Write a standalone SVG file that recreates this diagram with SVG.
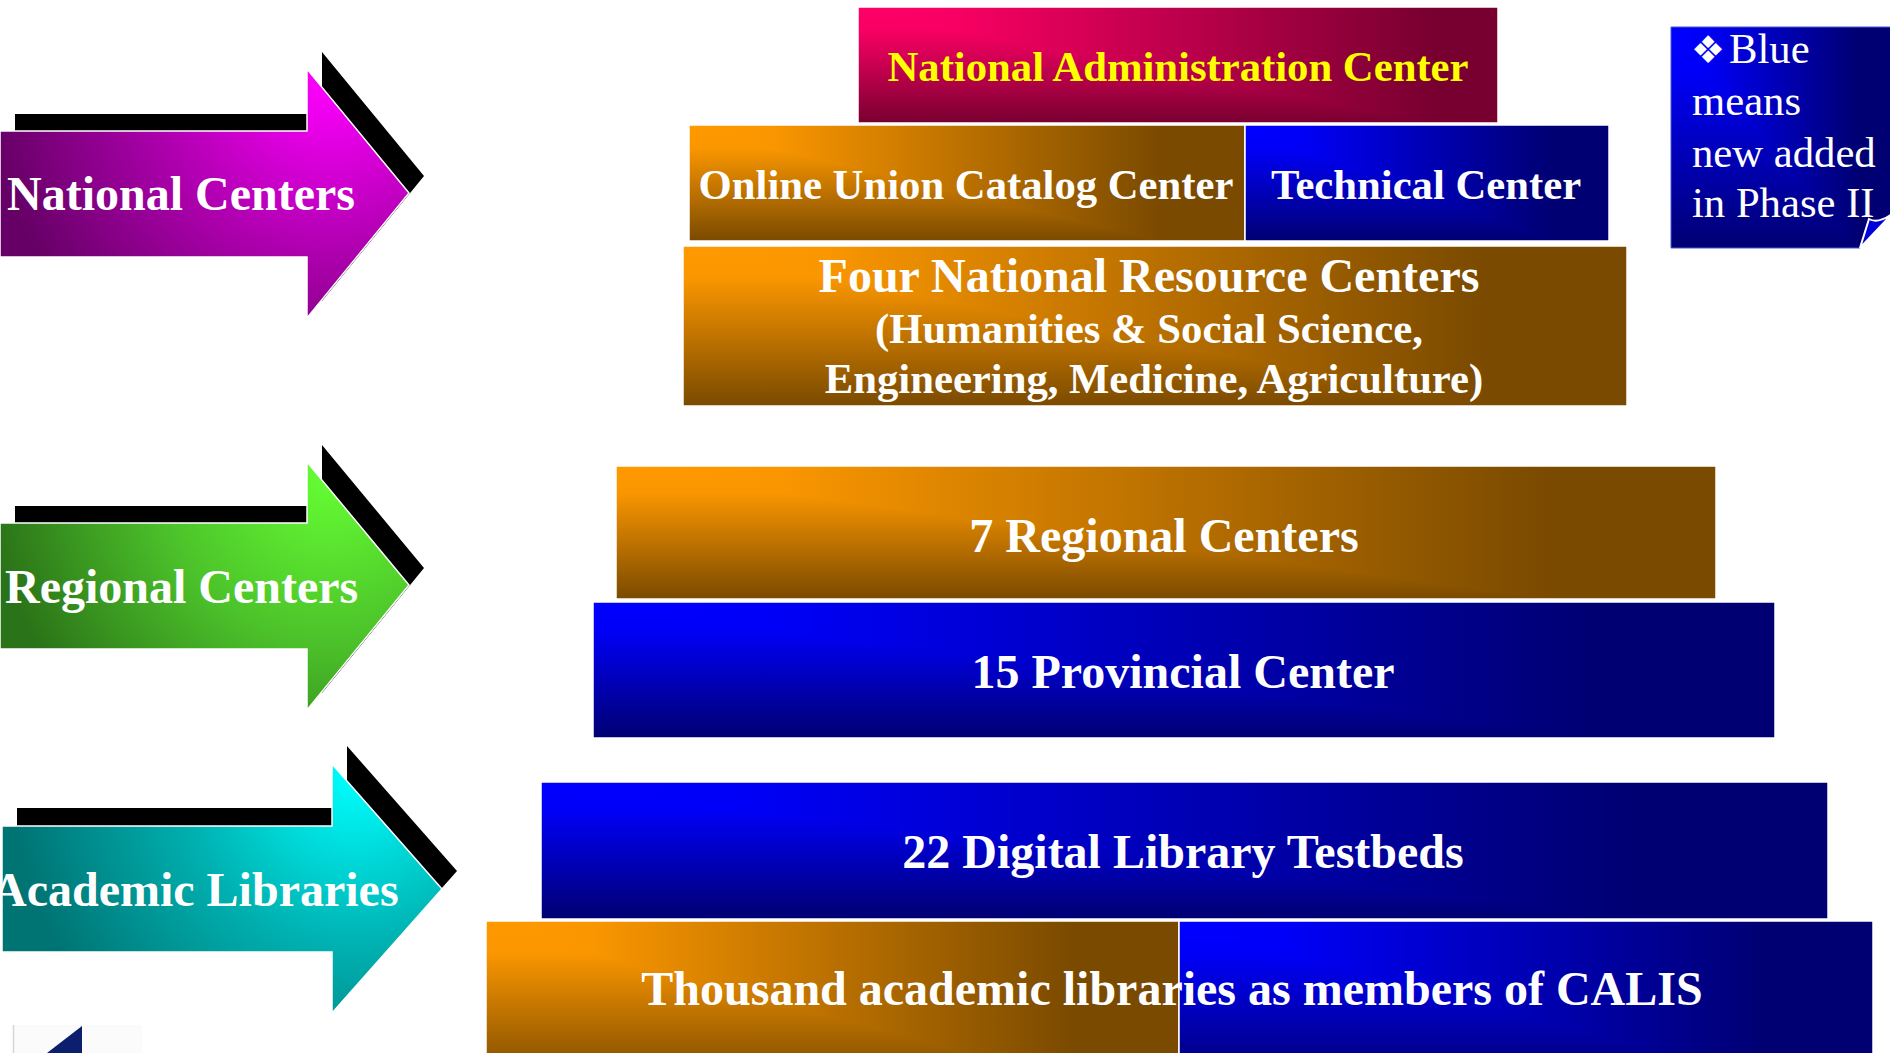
<svg xmlns="http://www.w3.org/2000/svg" width="1890" height="1053" viewBox="0 0 1890 1053">
<style>
.lbl{font-family:"Liberation Serif","Times New Roman",serif;font-weight:bold;fill:#fff;text-anchor:middle}
.arr{font-family:"Liberation Serif","Times New Roman",serif;font-weight:bold;fill:#fff;font-size:48px}
.leg{font-family:"Liberation Serif","Times New Roman",serif;fill:#fff;font-size:42.7px}
.edge{fill:none;stroke:#fff;stroke-width:1.5}
.ar{stroke:#fff;stroke-width:1.5}
.iso{isolation:isolate}
.dk{mix-blend-mode:darken}
</style>
<defs>
<linearGradient id="gOrH" x1="0" y1="0" x2="1" y2="0">
<stop offset="0" stop-color="#ff9900"/><stop offset="0.15" stop-color="#fa9600"/><stop offset="0.85" stop-color="#7a4a00"/>
</linearGradient>
<linearGradient id="gOrV" x1="0" y1="0" x2="0" y2="1">
<stop offset="0" stop-color="#ff9900"/><stop offset="0.2" stop-color="#fa9600"/><stop offset="1" stop-color="#7a4a00"/>
</linearGradient>
<linearGradient id="gBlH" x1="0" y1="0" x2="1" y2="0">
<stop offset="0" stop-color="#0000ff"/><stop offset="0.15" stop-color="#0000f8"/><stop offset="0.85" stop-color="#000072"/>
</linearGradient>
<linearGradient id="gBlV" x1="0" y1="0" x2="0" y2="1">
<stop offset="0" stop-color="#0000ff"/><stop offset="0.2" stop-color="#0000f8"/><stop offset="1" stop-color="#000072"/>
</linearGradient>
<linearGradient id="gAdH" x1="0" y1="0" x2="1" y2="0">
<stop offset="0" stop-color="#ff0066"/><stop offset="0.15" stop-color="#f80063"/><stop offset="0.9" stop-color="#780030"/>
</linearGradient>
<linearGradient id="gAdV" x1="0" y1="0" x2="0" y2="1">
<stop offset="0" stop-color="#ff0066"/><stop offset="0.2" stop-color="#f80063"/><stop offset="1" stop-color="#780030"/>
</linearGradient>
<radialGradient id="gNat" gradientUnits="userSpaceOnUse" cx="330" cy="80" r="340">
<stop offset="0" stop-color="#ff00ff"/><stop offset="0.5" stop-color="#b000b0"/><stop offset="1" stop-color="#660066"/>
</radialGradient>
<radialGradient id="gReg" gradientUnits="userSpaceOnUse" cx="330" cy="472" r="340">
<stop offset="0" stop-color="#66ff33"/><stop offset="0.5" stop-color="#4cc22a"/><stop offset="1" stop-color="#2b7318"/>
</radialGradient>
<radialGradient id="gAca" gradientUnits="userSpaceOnUse" cx="355" cy="775" r="345">
<stop offset="0" stop-color="#00ffff"/><stop offset="0.5" stop-color="#00b0b0"/><stop offset="1" stop-color="#007373"/>
</radialGradient>
</defs>
<rect width="1890" height="1053" fill="#fff"/>

<g id="arrow-national">
<polygon points="0,131 307,131 307,69 409,193 307,318 307,257 0,257" transform="translate(15,-17)" fill="#000"/>
<polygon class="ar" points="0,131 307,131 307,69 409,193 307,318 307,257 0,257" fill="url(#gNat)"/>
<text class="arr" x="7" y="210">National Centers</text>
</g>
<g id="arrow-regional">
<polygon points="0,523 307,523 307,462 409,585 307,710 307,649 0,649" transform="translate(15,-17)" fill="#000"/>
<polygon class="ar" points="0,523 307,523 307,462 409,585 307,710 307,649 0,649" fill="url(#gReg)"/>
<text class="arr" x="5" y="603">Regional Centers</text>
</g>
<g id="arrow-academic">
<polygon points="2,826 332,826 332,764 442,889 332,1013 332,952 2,952" transform="translate(15,-18)" fill="#000"/>
<polygon class="ar" points="2,826 332,826 332,764 442,889 332,1013 332,952 2,952" fill="url(#gAca)"/>
<text class="arr" x="-8" y="906">Academic Libraries</text>
</g>

<g id="national-admin">
<g class="iso"><rect x="858" y="7" width="640" height="116" fill="url(#gAdH)"/><rect class="dk" x="858" y="7" width="640" height="116" fill="url(#gAdV)"/></g>
<rect class="edge" x="858" y="7" width="640" height="116"/>
<text class="lbl" x="1178" y="81" font-size="42.7" style="fill:#ffff00">National Administration Center</text>
</g>
<g id="online-union">
<g class="iso"><rect x="689" y="125" width="556" height="116" fill="url(#gOrH)"/><rect class="dk" x="689" y="125" width="556" height="116" fill="url(#gOrV)"/></g>
<rect class="edge" x="689" y="125" width="556" height="116"/>
<text class="lbl" x="966" y="199" font-size="42.7">Online Union Catalog Center</text>
</g>
<g id="technical">
<g class="iso"><rect x="1245" y="125" width="364" height="116" fill="url(#gBlH)"/><rect class="dk" x="1245" y="125" width="364" height="116" fill="url(#gBlV)"/></g>
<rect class="edge" x="1245" y="125" width="364" height="116"/>
<text class="lbl" x="1426" y="199" font-size="42.7">Technical Center</text>
</g>
<g id="four-national">
<g class="iso"><rect x="683" y="246" width="944" height="160" fill="url(#gOrH)"/><rect class="dk" x="683" y="246" width="944" height="160" fill="url(#gOrV)"/></g>
<rect class="edge" x="683" y="246" width="944" height="160"/>
<text class="lbl" x="1149" y="292" font-size="48">Four National Resource Centers</text>
<text class="lbl" x="1149" y="343" font-size="42.7">(Humanities &amp; Social Science,</text>
<text class="lbl" x="1154" y="393" font-size="42.7">Engineering, Medicine, Agriculture)</text>
</g>
<g id="regional">
<g class="iso"><rect x="616" y="466" width="1100" height="133" fill="url(#gOrH)"/><rect class="dk" x="616" y="466" width="1100" height="133" fill="url(#gOrV)"/></g>
<rect class="edge" x="616" y="466" width="1100" height="133"/>
<text class="lbl" x="1164" y="552" font-size="48">7 Regional Centers</text>
</g>
<g id="provincial">
<g class="iso"><rect x="593" y="602" width="1182" height="136" fill="url(#gBlH)"/><rect class="dk" x="593" y="602" width="1182" height="136" fill="url(#gBlV)"/></g>
<rect class="edge" x="593" y="602" width="1182" height="136"/>
<text class="lbl" x="1183" y="688" font-size="48">15 Provincial Center</text>
</g>
<g id="digital">
<g class="iso"><rect x="541" y="782" width="1287" height="137" fill="url(#gBlH)"/><rect class="dk" x="541" y="782" width="1287" height="137" fill="url(#gBlV)"/></g>
<rect class="edge" x="541" y="782" width="1287" height="137"/>
<text class="lbl" x="1183" y="868" font-size="48">22 Digital Library Testbeds</text>
</g>
<g id="thousand">
<g class="iso"><rect x="486" y="921" width="693" height="160" fill="url(#gOrH)"/><rect class="dk" x="486" y="921" width="693" height="160" fill="url(#gOrV)"/></g>
<rect class="edge" x="486" y="921" width="693" height="160"/>
<g class="iso"><rect x="1179" y="921" width="694" height="160" fill="url(#gBlH)"/><rect class="dk" x="1179" y="921" width="694" height="160" fill="url(#gBlV)"/></g>
<rect class="edge" x="1179" y="921" width="694" height="160"/>
<text class="lbl" x="1172" y="1005" font-size="48">Thousand academic libraries as members of CALIS</text>
</g>

<g id="legend">
<g class="iso"><polygon points="1671,27 1892,27 1892,212 1860,248 1671,248" fill="url(#gBlH)"/><polygon class="dk" points="1671,27 1892,27 1892,212 1860,248 1671,248" fill="url(#gBlV)"/></g>
<polygon points="1671,27 1892,27 1892,212 1860,248 1671,248" fill="none" stroke="#4a5ad0" stroke-width="1"/>
<path d="M1860,248 L1869,219 Q1878,224 1892,214 Z" fill="#0000d8" stroke="#fff" stroke-width="2"/>
<text x="1691" y="63" font-family="DejaVu Sans, sans-serif" font-size="38" fill="#fff">❖</text>
<text class="leg" x="1729" y="63">Blue</text>
<text class="leg" x="1692" y="115">means</text>
<text class="leg" x="1692" y="167">new added</text>
<text class="leg" x="1692" y="217">in Phase II</text>
</g>

<g id="corner-fragment">
<rect x="13" y="1025" width="129" height="30" fill="#fbfbfb"/>
<line x1="13.5" y1="1025" x2="13.5" y2="1053" stroke="#d6d6d6" stroke-width="1.5"/>
<polygon points="47,1053 82,1026 82,1053" fill="#0b1f6e"/>
</g>
<g id="connectors"/>
</svg>
